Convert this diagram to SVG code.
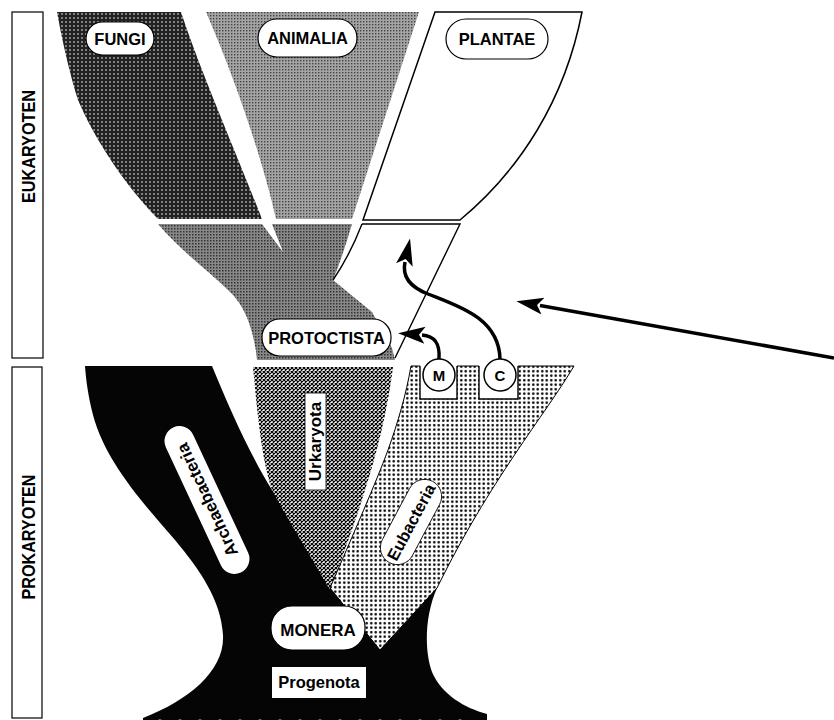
<svg xmlns="http://www.w3.org/2000/svg" width="834" height="720" viewBox="0 0 834 720">
<style>
.lbl{font-family:"Liberation Sans",Arial,Helvetica,sans-serif;font-weight:bold;fill:#000;text-anchor:middle}
.pill{fill:#fff;stroke:#000;stroke-width:1.2}
.edge{fill:none;stroke:#000;stroke-width:1.4}
.bar{fill:none;stroke:#000;stroke-width:1.2}
.conn{fill:none;stroke:#000;stroke-width:3.5}
</style>
<defs>
<pattern id="pFungi" width="4" height="4" patternUnits="userSpaceOnUse"><rect width="4" height="4" fill="#222"/><circle cx="2" cy="2" r="1" fill="#a0a0a0"/></pattern>
<pattern id="pAnim" width="3" height="3" patternUnits="userSpaceOnUse"><rect width="3" height="3" fill="#a4a4a4"/><rect width="1.4" height="1.4" fill="#444"/></pattern>
<pattern id="pProt" width="3" height="3" patternUnits="userSpaceOnUse"><rect width="3" height="3" fill="#888"/><rect width="1.5" height="1.5" fill="#333"/></pattern>
<pattern id="pUrk" width="4" height="4" patternUnits="userSpaceOnUse"><rect width="4" height="4" fill="#fff"/><path d="M0,0 L4,4 M4,0 L0,4" stroke="#000" stroke-width="1.2"/></pattern>
<pattern id="pEub" width="4.5" height="4.5" patternUnits="userSpaceOnUse"><rect width="4.5" height="4.5" fill="#fff"/><circle cx="2.25" cy="2.25" r="1.25" fill="#000"/></pattern>
<marker id="head" markerUnits="userSpaceOnUse" markerWidth="30" markerHeight="22" viewBox="0 -11 30 22" refX="3" refY="0" orient="auto"><path d="M0,-8.5 L27,0 L0,8.5 L6,0 Z" fill="#000"/></marker>
</defs>
<rect width="834" height="720" fill="#fff"/>

<g id="bar-eukaryoten">
<rect class="bar" x="12" y="12" width="31" height="346"/>
<text class="lbl" font-size="17.5" textLength="113" lengthAdjust="spacingAndGlyphs" transform="translate(35,146.5) rotate(-90)">EUKARYOTEN</text>
</g>
<g id="bar-prokaryoten">
<rect class="bar" x="12" y="367" width="30" height="351"/>
<text class="lbl" font-size="17.5" textLength="125" lengthAdjust="spacingAndGlyphs" transform="translate(35,537) rotate(-90)">PROKARYOTEN</text>
</g>

<g id="fungi">
<path d="M57 12 L181 12 C200 70 235 150 262 219 L158 219 C125 185 95 140 78 100 C70 75 62 40 57 12 Z" fill="url(#pFungi)"/>
<rect class="pill" x="86" y="22" width="68" height="33" rx="16.5"/>
<text class="lbl" font-size="16.5" x="120" y="44.5">FUNGI</text>
</g>

<g id="animalia">
<path d="M206 12 L419 12 L352 219 L276 219 C265 170 240 90 206 12 Z" fill="url(#pAnim)"/>
<rect class="pill" x="258" y="19" width="99" height="38" rx="19"/>
<text class="lbl" font-size="16.5" x="307.5" y="44">ANIMALIA</text>
</g>

<g id="plantae">
<path d="M435 12 L582 12 C565 100 520 170 460 220 L363 220 Z" fill="#fff" stroke="#000" stroke-width="1.5"/>
<rect class="pill" x="446" y="19" width="102" height="40" rx="20"/>
<text class="lbl" font-size="16.5" x="497" y="45">PLANTAE</text>
</g>

<g id="protoctista">
<path d="M158 224 L262 224 L283 252 L272 224 L352 224 Q343 255 333 280 L372 312 L392 348 L395 360 L257 360 C254 330 245 305 228 290 C205 268 180 250 158 224 Z" fill="url(#pProt)"/>
<path class="edge" d="M362 224 L460 224 L395 358 M362 224 Q350 255 333 280"/>
<rect class="pill" x="262" y="319" width="129" height="37" rx="18"/>
<text class="lbl" font-size="16.5" x="326.5" y="343.5">PROTOCTISTA</text>
</g>

<g id="archaebacteria">
<path d="M85 366 L212 366 C228 405 250 455 272 490 L277 488 L334 586 L380 644 L432 590 L437 588 C425 615 424 650 432 672 C442 695 465 708 487 714 L487 720 L143 720 L143 718 C190 700 225 670 223 635 C221 600 200 570 175 540 C140 500 105 460 93 415 C88 395 86 380 85 366 Z" fill="#050505"/>
<line x1="160" y1="723" x2="476" y2="723" stroke="#fff" stroke-width="7" stroke-linecap="round" stroke-dasharray="0 20"/>
<g transform="translate(207,500) rotate(-115)">
<rect x="-80" y="-15" width="160" height="30" rx="15" fill="#fff"/>
<text class="lbl" font-size="17" x="0" y="6">Archaebacteria</text>
</g>
</g>

<g id="urkaryota">
<path d="M253 367 L393 367 C385 430 368 490 330 590 C310 555 288 520 272 490 C262 460 258 420 253 367 Z" fill="url(#pUrk)"/>
<rect x="305" y="393" width="21" height="97" fill="#fff" stroke="#000" stroke-width="0.8"/>
<text class="lbl" font-size="17" transform="translate(320.5,441.5) rotate(-90)">Urkaryota</text>
</g>

<g id="eubacteria">
<path d="M411 366 L574 366 C545 415 490 480 437 588 L380 650 L330 588 C355 530 375 485 388 450 C398 422 406 395 411 366 Z" fill="url(#pEub)" stroke="#000" stroke-width="1"/>
<g transform="translate(411,522) rotate(-62)">
<rect x="-46" y="-17" width="92" height="34" rx="17" fill="#fff" stroke="#000" stroke-width="0.8"/>
<text class="lbl" font-size="16.5" x="0" y="6">Eubacteria</text>
</g>
</g>

<g id="mito-box">
<rect x="420" y="363" width="37" height="36" fill="#fff"/>
<path class="edge" d="M420 366 L420 399 L457 399 L457 366"/>
<circle cx="439" cy="375" r="16" fill="#fff" stroke="#000" stroke-width="1.5"/>
<text class="lbl" font-size="15" x="439" y="380.5">M</text>
</g>
<g id="chloro-box">
<rect x="479" y="363" width="39" height="36" fill="#fff"/>
<path class="edge" d="M479 366 L479 399 L518 399 L518 366"/>
<circle cx="500" cy="375" r="16" fill="#fff" stroke="#000" stroke-width="1.5"/>
<text class="lbl" font-size="15" x="500" y="380.5">C</text>
</g>

<g id="monera">
<rect class="pill" x="271" y="606" width="94" height="44" rx="21"/>
<text class="lbl" font-size="17" x="318" y="636">MONERA</text>
</g>
<g id="progenota">
<rect x="272" y="667" width="94" height="31" fill="#fff"/>
<text class="lbl" font-size="16.5" x="319" y="688">Progenota</text>
</g>

<g id="connectors">
<path class="conn" d="M500 359 C499 318 458 306 428 294 C410 287 402 276 405 262" marker-end="url(#head)"/>
<path class="conn" d="M439 359 C440 345 436 336 422 335" marker-end="url(#head)"/>
<path class="conn" stroke-width="4.5" d="M834 358 L540 305.5" marker-end="url(#head)"/>
</g>
</svg>
